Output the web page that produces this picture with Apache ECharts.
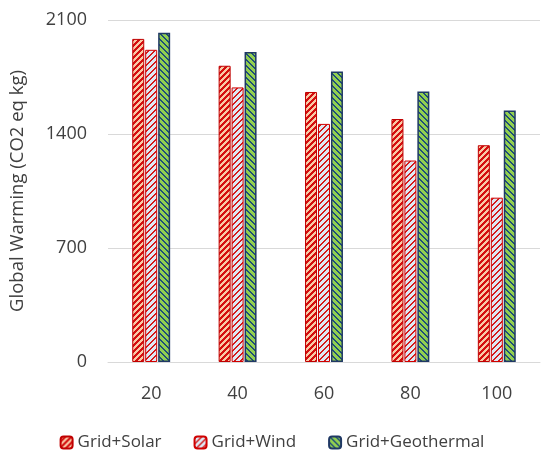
<!DOCTYPE html>
<html><head><meta charset="utf-8">
<script src="https://cdn.jsdelivr.net/npm/echarts@6/dist/echarts.min.js"></script>
<style>html,body{margin:0;padding:0;background:#fff}#c{width:544px;height:450px}</style>
</head><body><div id="c"></div>
<script>
const categories = ['20','40','60','80','100'];
const solar = [1984, 1819, 1658, 1492, 1331];
const wind = [1917, 1686, 1462, 1237, 1009];
const geothermal = [2021, 1903, 1784, 1661, 1545];
const seriesNames = ['Grid+Solar','Grid+Wind','Grid+Geothermal'];

function makePattern(bg, fg, dir, period, width) {
  const n = period;
  const cv = document.createElement('canvas');
  cv.width = n; cv.height = n;
  const ctx = cv.getContext('2d');
  ctx.fillStyle = bg; ctx.fillRect(0,0,n,n);
  ctx.fillStyle = fg;
  for (let y=0;y<n;y++) for (let x=0;x<n;x++) {
    const v = dir === '/' ? (x + y) % n : ((x - y) % n + n) % n;
    if (v < width) ctx.fillRect(x,y,1,1);
  }
  return {image: cv, repeat: 'repeat'};
}

const pSolar = makePattern('#d40f0f', '#f9c9a6', '/', 6, 3);
const pWind = makePattern('#dde8f4', '#d41a1a', '/', 6, 2);
const pGeo = makePattern('#92d050', '#1f4e79', '\\', 6, 2);

const chart = echarts.init(document.getElementById('c'));
const font = 'Open Sans, Noto Sans, sans-serif';
chart.setOption({
  animation: false,
  textStyle: {fontFamily: font},
  grid: {left: 103, right: 4, top: 20, bottom: 88},
  legend: {
    top: 429, left: 'center', itemWidth: 12, itemHeight: 12, itemGap: 32,
    textStyle: {fontSize: 17, color: '#404040', fontFamily: font},
    data: seriesNames
  },
  xAxis: {
    type: 'category', data: categories,
    axisLine: {lineStyle: {color: '#d9d9d9', width: 1}},
    axisTick: {show: false},
    axisLabel: {fontSize: 18, color: '#404040', margin: 23}
  },
  yAxis: {
    type: 'value', min: 0, max: 2100, interval: 700,
    name: 'Global Warming (CO2 eq kg)', nameLocation: 'middle', nameGap: 81,
    nameTextStyle: {fontSize: 18.5, color: '#404040'},
    axisLine: {show: false}, axisTick: {show: false},
    axisLabel: {fontSize: 18, color: '#404040', margin: 21, formatter: v => String(v)},
    splitLine: {lineStyle: {color: '#d9d9d9', width: 1}}
  },
  series: [
    {name: seriesNames[0], type: 'bar', data: solar, barWidth: 12, barGap: '8%',
     itemStyle: {color: pSolar, borderColor: '#c00000', borderWidth: 1}},
    {name: seriesNames[1], type: 'bar', data: wind, barWidth: 12, barGap: '8%',
     itemStyle: {color: pWind, borderColor: '#d00000', borderWidth: 1}},
    {name: seriesNames[2], type: 'bar', data: geothermal, barWidth: 12, barGap: '8%',
     itemStyle: {color: pGeo, borderColor: '#1f3864', borderWidth: 1.5}}
  ]
});
</script></body></html>
